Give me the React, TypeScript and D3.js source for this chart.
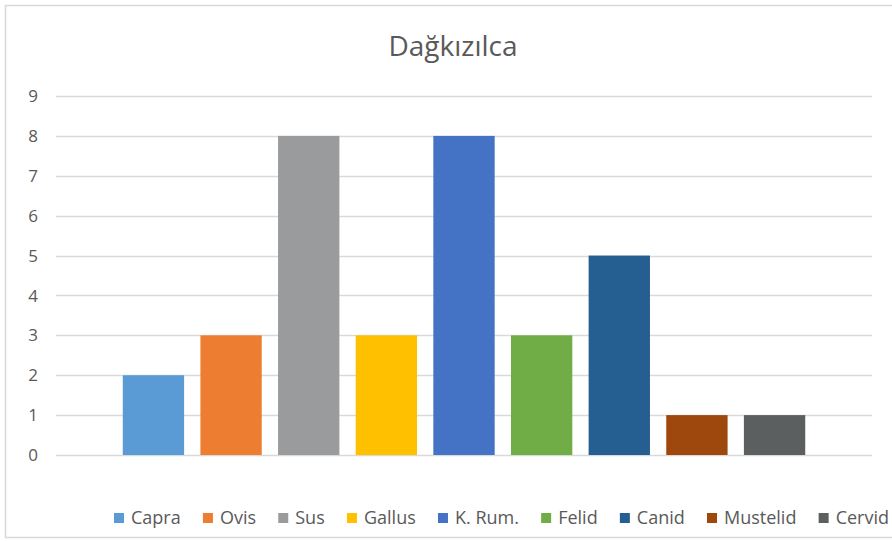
import React, { useEffect, useRef } from "react";
import * as d3 from "d3";

const series = ["Capra", "Ovis", "Sus", "Gallus", "K. Rum.", "Felid", "Canid", "Mustelid", "Cervid"];
const values = [2, 3, 8, 3, 8, 3, 5, 1, 1];
const colors = ["#5B9BD5", "#ED7D31", "#999B9C", "#FFC000", "#4472C4", "#70AD47", "#255E91", "#9E480E", "#5B5F60"];
const yTicks = [0, 1, 2, 3, 4, 5, 6, 7, 8, 9];
const title = "Dağkızılca";

const W = 892, H = 541;
const FONT = "'Open Sans', sans-serif";

export default function App() {
  const ref = useRef<SVGSVGElement>(null);
  useEffect(() => {
    const svg = d3.select(ref.current);
    svg.selectAll("*").remove();

    svg.append("rect").attr("x", 5.5).attr("y", 5.5).attr("width", 900).attr("height", 532)
      .attr("fill", "#fff").attr("stroke", "#D9D9D9").attr("stroke-width", 1.5);

    const plotL = 56, plotR = 872, plotT = 96, plotB = 455;
    const y = d3.scaleLinear().domain([0, 9]).range([plotB, plotT]);
    const x = d3.scaleBand<string>().domain(series).range([plotL, plotR]).paddingInner(0.21).paddingOuter(0.86);

    svg.append("text").attr("x", 453).attr("y", 56).attr("text-anchor", "middle")
      .attr("font-family", FONT).attr("font-size", 28).attr("fill", "#595959").text(title);

    const g = svg.append("g");
    g.selectAll("line.grid").data(yTicks).enter().append("line")
      .attr("x1", plotL).attr("x2", plotR)
      .attr("y1", d => Math.round(y(d)) + 0.5).attr("y2", d => Math.round(y(d)) + 0.5)
      .attr("stroke", "#D9D9D9").attr("stroke-width", 1.5);

    g.selectAll("text.tick").data(yTicks).enter().append("text")
      .attr("x", 38).attr("y", d => y(d)).attr("dy", "0.36em").attr("text-anchor", "end")
      .attr("font-family", FONT).attr("font-size", 17).attr("fill", "#595959").text(d => d);

    g.selectAll("rect.bar").data(series).enter().append("rect")
      .attr("x", d => x(d)!).attr("width", x.bandwidth())
      .attr("y", (d, i) => y(values[i])).attr("height", (d, i) => y(0) - y(values[i]))
      .attr("fill", (d, i) => colors[i]);

    // legend
    const fs = 18;
    const sq = 10, sqGap = 7;
    const ly = 518;
    const lg = svg.append("g");
    const items = series.map((s, i) => {
      const r = lg.append("rect").attr("y", ly - sq / 2).attr("width", sq).attr("height", sq).attr("fill", colors[i]);
      const t = lg.append("text").attr("y", ly).attr("dy", "0.36em")
        .attr("font-family", FONT).attr("font-size", fs).attr("fill", "#595959").text(s);
      const w = (t.node() as SVGTextElement).getComputedTextLength();
      return { r, t, w: sq + sqGap + w };
    });
    const left = 114, right = 889;
    const gap = (right - left - d3.sum(items, d => d.w)) / (items.length - 1);
    let cx = left;
    items.forEach(it => {
      it.r.attr("x", cx);
      it.t.attr("x", cx + sq + sqGap);
      cx += it.w + gap;
    });
  }, []);
  return (
    <div style={{ position: "absolute", left: 0, top: 0 }}>
      <svg ref={ref} width={W} height={H} style={{ display: "block" }} />
    </div>
  );
}
